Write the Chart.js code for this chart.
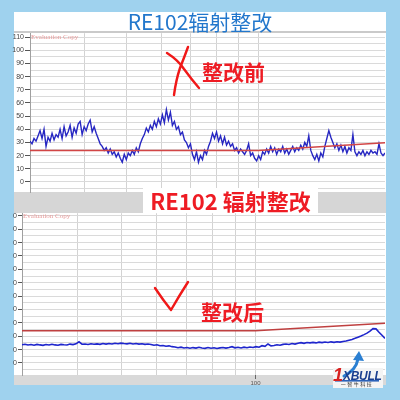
<!DOCTYPE html>
<html><head><meta charset="utf-8">
<script src="https://cdn.jsdelivr.net/npm/chart.js@4"></script>
<style>
html,body{margin:0;padding:0;}
body{width:400px;height:400px;background:#9fd2ee;position:relative;overflow:hidden;font-family:"Noto Sans CJK SC","Noto Sans",sans-serif;}
.abs{position:absolute;}
#panel{left:14px;top:12px;width:372px;height:373px;background:#fff;}
#topline{left:14px;top:31px;width:372px;height:2px;background:#cacaca;}
#band1{left:14px;top:192px;width:372px;height:21px;background:#d6d6d6;}
#band2{left:14px;top:375px;width:372px;height:10px;background:#d9d9d9;}
#cA{left:0;top:28px;}
#cB{left:0;top:208px;}
.title{left:0;width:400px;top:7px;height:28px;line-height:28px;text-align:center;font-size:21px;color:#2277cc;white-space:nowrap;}
#box2{left:143px;top:188px;width:175px;height:25px;background:#fff;}
#t2{left:143px;top:186px;width:175px;height:28px;line-height:28px;text-align:center;font-size:22px;font-weight:bold;color:#ee1c24;white-space:nowrap;}
.note{height:28px;line-height:28px;font-size:21px;font-weight:bold;color:#ee1c24;white-space:nowrap;}
.eval{font-family:"Liberation Serif",serif;font-size:7px;color:#e79a9a;white-space:nowrap;line-height:7px;}
#logoBg{left:333px;top:368px;width:50px;height:20px;background:#f4f4f4;}
</style>
</head>
<body>
<div id="panel" class="abs"></div>
<div id="topline" class="abs"></div>
<div id="band1" class="abs"></div>
<div id="band2" class="abs"></div>
<canvas id="cA" class="abs" width="386" height="172" style="width:386px;height:172px"></canvas>
<canvas id="cB" class="abs" width="386" height="180" style="width:386px;height:180px"></canvas>
<div class="abs title">RE102辐射整改</div>
<div id="box2" class="abs"></div>
<div id="t2" class="abs">RE102 辐射整改</div>
<div class="abs note" style="left:202px;top:57px;">整改前</div>
<div class="abs note" style="left:201px;top:297px;">整改后</div>
<div class="abs eval" style="left:31px;top:34px;">Evaluation Copy</div>
<div class="abs eval" style="left:23px;top:213px;">Evaluation Copy</div>
<div id="logoBg" class="abs"></div>
<svg class="abs" style="left:0;top:0" width="400" height="400">
  <g fill="none" stroke="#f01818" stroke-width="2.4" stroke-linecap="round" stroke-linejoin="round">
    <path d="M167,53 Q178,60 184,69 Q192,80 199,88"/>
    <path d="M188,47 Q184,58 180,68 Q176,80 174,95"/>
    <path d="M155,288 Q163,300 171,310 Q179,296 188,282"/>
  </g>
  <path d="M344,376 Q356,370 358,359" fill="none" stroke="#2a7fd2" stroke-width="3" stroke-linecap="round"/>
  <polygon points="359,351 353,360 364,361" fill="#2a7fd2"/>
  <rect x="335" y="380" width="44" height="1.6" fill="#2b62b8"/>
</svg>
<div class="abs" style="left:333px;top:366px;font-family:'Liberation Sans',sans-serif;font-size:18px;line-height:18px;font-weight:bold;font-style:italic;color:#d8201f;">1</div>
<div class="abs" style="left:343px;top:370px;font-family:'Liberation Sans',sans-serif;font-size:12px;line-height:12px;font-weight:bold;font-style:italic;color:#1b3f8f;letter-spacing:-0.3px;">XBULL</div>
<div class="abs" style="left:337px;top:381px;width:40px;text-align:center;font-size:5px;line-height:6px;color:#333;letter-spacing:1.5px;">一智牛科技</div>
<script>
// ---- data ----
const F_START = 30, F_STOP = 195;                 // sweep range (log axis)
const GRID_FREQS = [40, 50, 60, 70, 80, 90, 100]; // vertical grid lines
const X_TICK_LABELS = ['100'];
const Y_TICK_LABELS = [0, 10, 20, 30, 40, 50, 60, 70, 80, 90, 100, 110];
const Y_GRID_STEP = 5;
const LIMIT_FREQS = [30, 100, 200];
const LIMIT_DB = [24, 24, 30];
const BEFORE_DB = [
 31,29,33,31,35,39,33,40,27,34,
 31,37,32,36,34,40,33,42,35,38,
 43,34,41,37,44,46,36,42,39,44,
 47,38,42,37,33,29,27,24,26,22,
 25,21,23,19,22,18,15,21,17,22,
 20,24,21,26,23,29,33,36,41,38,
 43,40,46,42,48,44,51,45,55,47,
 53,43,46,40,42,36,38,32,30,26,
 29,21,17,23,15,20,17,24,21,27,
 31,37,33,38,31,35,29,34,28,31,
 27,29,24,26,22,25,23,21,24,29,
 20,22,18,16,20,17,23,21,25,22,
 27,23,26,21,25,23,27,22,25,21,
 24,27,23,26,24,28,25,30,27,35,
 24,20,17,21,16,22,19,27,33,39,
 34,30,26,29,24,28,23,27,22,26,
 24,36,23,20,23,21,24,20,23,21,
 24,22,23,21,29,22,20,22
];
const AFTER_DB = [
 13.6,14,13.4,13.8,13.3,13.9,13.5,13.2,13.8,13.4,14,13.5,13.3,13.9,13.6,13.4,14.1,13.7,14.3,
 15.8,
 14,14.2,13.8,14.4,14,14.3,13.9,14.5,14.1,14.6,14.2,14.7,14.4,14.8,14.5,14.3,14.7,14.2,14.6,14.1,14.4,13.9,14.2,
 13.8,13.3,13.6,12.9,13.1,12.5,12.8,12.2,
 12,11.4,11.8,11.2,11.6,11,11.5,11.1,11.7,11.2,10.9,11.5,11,11.4,10.8,11.3,11.6,11.1,11.5,12.2,11.3,11.7,11.2,11.8,11.4,11.9,
 11.6,12.2,11.8,12.9,12.4,14.2,12.8,
 13.1,13.6,13.3,13.9,14.2,13.8,14.5,14.1,14.8,15.2,14.7,15.3,15,
 15.4,15,15.6,15.2,15.7,15.3,15.8,15.4,15.9,15.6,16.1,16.4,
 17,17.6,18.4,19.3,20.2,21.2,22.3,23.8,
 25.7,25.5,23,20.7,18.4
];

// receiver sweep frequencies (log-spaced sweep points)
function sweepFreqs(n){ const out=[]; for(let i=0;i<n;i++) out.push(F_START*Math.pow(F_STOP/F_START,i/(n-1))); return out; }
function pts(fs, vs){ return vs.map((v,i)=>({x:fs[i], y:v})); }
const limitPts = pts(LIMIT_FREQS, LIMIT_DB);

const bgPlugin = { id:'bg', beforeDraw(c){ const {ctx, chartArea:a}=c; ctx.save(); ctx.fillStyle='#fff'; ctx.fillRect(a.left,a.top,a.right-a.left,a.bottom-a.top); ctx.restore(); } };

function yGrid(){ const g=[]; for(let v=-5; v<=110; v+=Y_GRID_STEP) g.push(v); return g; }

function makeChart(id, opts){
  return new Chart(document.getElementById(id), {
    type:'line',
    data:{ datasets:[
      { data: opts.trace, borderColor: opts.traceColor, borderWidth: opts.traceWidth, pointRadius:0, tension:0, order:2 },
      { data: limitPts, borderColor: opts.limitColor, borderWidth: 1.5, pointRadius:0, tension:0, order:1 }
    ]},
    options:{
      responsive:false, animation:false, events:[],
      layout:{ padding:{ left:0, right:1, top:5, bottom: opts.padBottom } },
      plugins:{ legend:{display:false}, tooltip:{enabled:false} },
      scales:{
        x:{ type:'logarithmic', min:F_START, max:F_STOP,
            afterBuildTicks(s){ s.ticks = GRID_FREQS.map(v=>({value:v})); },
            afterFit(s){ s.height = opts.xHeight; },
            border:{ display:false },
            grid:{ color:'#d3d3d3', lineWidth:1, drawTicks: opts.showX, tickLength:4,
                   tickColor: ctx => (opts.showX && X_TICK_LABELS.includes(String(ctx.tick && ctx.tick.value))) ? '#666' : 'transparent' },
            ticks:{ display: opts.showX, autoSkip:false, maxRotation:0, padding:1,
                    font:{ family:'Liberation Sans', size:6 }, color:'#555',
                    callback: v => X_TICK_LABELS.includes(String(v)) ? String(v) : '' } },
        y:{ type:'linear', min: opts.yMin, max: opts.yMax,
            afterBuildTicks(s){ s.ticks = yGrid().map(v=>({value:v})); },
            afterFit(s){ s.width = opts.yWidth; },
            border:{ display:true, color:'#a0a0a0', width:1 },
            grid:{ color:'#dadada', lineWidth:1, tickLength: opts.tickLen,
                   tickColor: ctx => (ctx.tick && Y_TICK_LABELS.includes(ctx.tick.value)) ? '#555' : 'transparent' },
            ticks:{ autoSkip:false, padding:1, font:{ family:'Liberation Sans', size:7 }, color:'#444',
                    callback: v => Y_TICK_LABELS.includes(v) ? opts.label(v) : '' } }
      }
    },
    plugins:[bgPlugin]
  });
}

makeChart('cA', {
  trace: pts(sweepFreqs(BEFORE_DB.length), BEFORE_DB), traceColor:'#2727c2', traceWidth:1.4,
  limitColor:'#d24646', yMin:-7.6, yMax:113, yWidth:30, tickLen:5, padBottom:8,
  xHeight:0, showX:false, label: v => String(v)
});
makeChart('cB', {
  trace: pts(sweepFreqs(AFTER_DB.length), AFTER_DB), traceColor:'#1f26cc', traceWidth:1.6,
  limitColor:'#bf4040', yMin:-9, yMax:112, yWidth:22, tickLen:4, padBottom:0,
  xHeight:13, showX:true, label: v => String(v).slice(-1)
});
</script>
</body></html>
